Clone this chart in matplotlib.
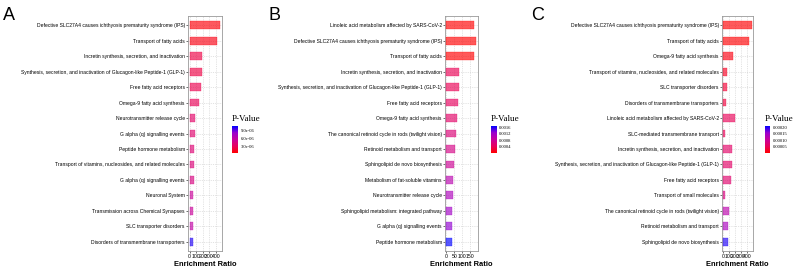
import numpy as np
import matplotlib
matplotlib.use("Agg")
import matplotlib.pyplot as plt
from matplotlib.colors import LinearSegmentedColormap, Normalize

plt.rcParams['font.family'] = ['Liberation Sans', 'DejaVu Sans']

# panel A
a_terms = ["Defective SLC27A4 causes ichthyosis prematurity syndrome (IPS)",
           "Transport of fatty acids",
           "Incretin synthesis, secretion, and inactivation",
           "Synthesis, secretion, and inactivation of Glucagon-like Peptide-1 (GLP-1)",
           "Free fatty acid receptors",
           "Omega-9 fatty acid synthesis",
           "Neurotransmitter release cycle",
           "G alpha (q) signalling events",
           "Peptide hormone metabolism",
           "Transport of vitamins, nucleosides, and related molecules",
           "G alpha (q) signalling events",
           "Neuronal System",
           "Transmission across Chemical Synapses",
           "SLC transporter disorders",
           "Disorders of transmembrane transporters"]
a_ratio = [465, 420, 190, 190, 175, 145, 85, 75, 70, 65, 60, 55, 55, 55, 50]
a_pval = [1.0e-6, 1.2e-6, 2.5e-6, 2.5e-6, 2.8e-6, 3.0e-6, 3.5e-6, 3.8e-6,
          4.0e-6, 4.2e-6, 4.5e-6, 5.5e-6, 5.5e-6, 6.0e-6, 1.0e-5]
a_ticks = [0, 100, 200, 300, 400]
a_cticks = [3e-6, 6e-6, 9e-6]
a_clabels = ["3.0e-06", "6.0e-06", "9.0e-06"]

# panel B
b_terms = ["Linoleic acid metabolism affected by SARS-CoV-2",
           "Defective SLC27A4 causes ichthyosis prematurity syndrome (IPS)",
           "Transport of fatty acids",
           "Incretin synthesis, secretion, and inactivation",
           "Synthesis, secretion, and inactivation of Glucagon-like Peptide-1 (GLP-1)",
           "Free fatty acid receptors",
           "Omega-9 fatty acid synthesis",
           "The canonical retinoid cycle in rods (twilight vision)",
           "Retinoid metabolism and transport",
           "Sphingolipid de novo biosynthesis",
           "Metabolism of fat-soluble vitamins",
           "Neurotransmitter release cycle",
           "Sphingolipid metabolism: integrated pathway",
           "G alpha (q) signalling events",
           "Peptide hormone metabolism"]
b_ratio = [175, 194, 175, 84, 84, 76, 68, 60, 54, 50, 44, 40, 38, 35, 33]
b_pval = [0.00002, 0.00002, 0.00002, 0.0004, 0.0004, 0.00045, 0.0005, 0.0006,
          0.0007, 0.0008, 0.0010, 0.0011, 0.0012, 0.0013, 0.0017]
b_ticks = [0, 50, 100, 150]
b_cticks = [0.0004, 0.0008, 0.0012, 0.0016]
b_clabels = ["0.0004", "0.0008", "0.0012", "0.0016"]

# panel C
c_terms = ["Defective SLC27A4 causes ichthyosis prematurity syndrome (IPS)",
           "Transport of fatty acids",
           "Omega-9 fatty acid synthesis",
           "Transport of vitamins, nucleosides, and related molecules",
           "SLC transporter disorders",
           "Disorders of transmembrane transporters",
           "Linoleic acid metabolism affected by SARS-CoV-2",
           "SLC-mediated transmembrane transport",
           "Incretin synthesis, secretion, and inactivation",
           "Synthesis, secretion, and inactivation of Glucagon-like Peptide-1 (GLP-1)",
           "Free fatty acid receptors",
           "Transport of small molecules",
           "The canonical retinoid cycle in rods (twilight vision)",
           "Retinoid metabolism and transport",
           "Sphingolipid de novo biosynthesis"]
c_ratio = [470, 428, 163, 68, 52, 45, 190, 30, 137, 137, 126, 20, 95, 84, 79]
c_pval = [2e-6, 2e-6, 1e-5, 2e-5, 3e-5, 3.5e-5, 5e-5, 5e-5, 6e-5, 6e-5,
          6.5e-5, 8e-5, 1.2e-4, 1.4e-4, 2.0e-4]
c_ticks = [0, 100, 200, 300, 400]
c_cticks = [5e-5, 1e-4, 1.5e-4, 2e-4]
c_clabels = ["0.00005", "0.00010", "0.00015", "0.00020"]

cmap = LinearSegmentedColormap.from_list(
    "rb", ["#FF0000", "#E8005C", "#C8009C", "#9A00CF", "#0000FF"])

W, H = 793, 272
fig = plt.figure(figsize=(W / 100, H / 100), dpi=100)


def px(x0, y0, x1, y1):
    return [x0 / W, 1 - y1 / H, (x1 - x0) / W, (y1 - y0) / H]


def panel(letter, lx, axbox, cbox, terms, ratio, pval, ticks, vmin, vmax, cticks, clabels):
    ax = fig.add_axes(px(*axbox))
    n = len(terms)
    y = np.arange(n)[::-1]
    norm = Normalize(vmin, vmax)
    cols = cmap(norm(np.array(pval)))
    ax.barh(y, ratio, height=0.5, color=cols, alpha=0.65, edgecolor=cols, linewidth=0.3, zorder=3)
    ax.set_ylim(-0.6, n - 0.4)
    xmax = max(ratio)
    ax.set_xlim(-0.05 * xmax, 1.05 * xmax)
    ax.set_yticks(y)
    ax.set_yticklabels(terms, fontsize=3.65, color='#1a1a1a')
    ax.set_xticks(ticks)
    ax.set_xticklabels([str(t) for t in ticks], fontsize=3.7, color='#1a1a1a')
    ax.tick_params(axis='both', length=1.5, width=0.4, pad=0.8, colors='black')
    ax.grid(True, color='#cccccc', linestyle=(0, (2, 2)), linewidth=0.4, zorder=0)
    for s in ax.spines.values():
        s.set_color('#999999')
        s.set_linewidth(0.6)
    ax.set_xlabel("Enrichment Ratio", fontsize=5.4, fontweight='bold', labelpad=1.5)
    fig.text(lx / W, 1 - 20 / H, letter, fontsize=13, ha='left', va='baseline')

    cax = fig.add_axes(px(*cbox))
    grad = np.linspace(vmin, vmax, 256).reshape(-1, 1)
    cax.imshow(grad, aspect='auto', cmap=cmap, origin='lower',
               extent=[0, 1, vmin, vmax], norm=norm)
    cax.set_xticks([])
    cax.yaxis.tick_right()
    cax.set_yticks(cticks)
    cax.set_yticklabels(clabels, fontsize=3.3, family='Liberation Serif')
    cax.tick_params(axis='y', length=0, pad=2.2)
    for s in cax.spines.values():
        s.set_visible(False)
    fig.text(cbox[0] / W, 1 - 121 / H, "P-Value", fontsize=6.5,
             family='Liberation Serif', ha='left', va='baseline')


panel("A", 3, (188, 16, 222, 251), (232, 126, 238, 153), a_terms, a_ratio, a_pval,
      a_ticks, 0.7e-6, 10.5e-6, a_cticks, a_clabels)
panel("B", 268, (445, 16, 478, 251), (490.5, 126, 496, 153), b_terms, b_ratio, b_pval,
      b_ticks, 0.00001, 0.0017, b_cticks, b_clabels)
panel("C", 531, (722, 16, 753, 251), (765, 126, 770, 153), c_terms, c_ratio, c_pval,
      c_ticks, 0.0, 0.00021, c_cticks, c_clabels)

fig.savefig("out.png", dpi=100)
